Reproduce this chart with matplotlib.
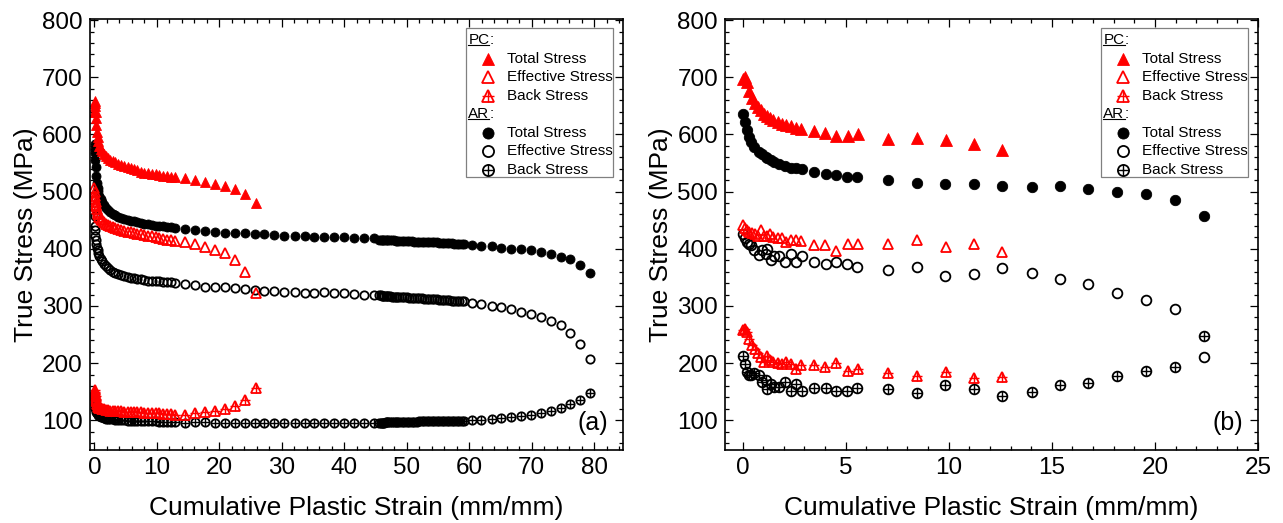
import matplotlib
matplotlib.use('Agg')
import matplotlib.pyplot as plt
from matplotlib.ticker import MultipleLocator
from matplotlib.patches import Rectangle

plt.rcParams['font.family'] = ['Liberation Sans', 'DejaVu Sans']

RED = '#ff0000'
BLACK = '#000000'

# ---- (a) tests run to failure ----
pc_a_strain = [0.0, 0.05, 0.1, 0.15, 0.2, 0.25, 0.3, 0.4, 0.5, 0.6, 0.8, 1.0, 1.2, 1.5, 1.8,
               2.1, 2.5, 2.9, 3.3, 3.8, 4.3, 4.8, 5.3, 5.8, 6.3, 6.8, 7.4, 8.0, 8.6, 9.2,
               9.8, 10.4, 11.0, 11.6, 12.2, 12.9,
               14.5, 16.1, 17.7, 19.3, 20.9, 22.5, 24.1, 25.8]
pc_a_total = [640, 655, 658, 650, 640, 628, 617, 605, 596, 588, 580, 575, 571, 566, 562,
              559, 556, 553, 551, 549, 547, 545, 543, 541, 539, 537, 535, 533, 532, 531,
              530, 529, 528, 527, 526, 525,
              523, 520, 517, 513, 510, 505, 495, 480]
pc_a_eff = [507, 500, 493, 487, 482, 477, 474, 469, 465, 461, 456, 452, 450, 447, 444,
            442, 440, 438, 436, 434, 432.5, 431, 430, 428.5, 427.5, 426.5, 425, 424, 422.5, 421.5,
            420.5, 419, 417.5, 416, 414.5, 413,
            412, 408, 403, 398, 392, 380, 360, 322]
pc_a_back = [145, 150, 153, 148, 142, 137, 133, 129, 126, 124, 122, 121, 120, 119, 118,
             117.5, 117, 116.5, 116, 116, 115.5, 115, 115, 114.5, 114.5, 114, 114, 113.5, 113, 113,
             112.5, 112, 111.5, 111, 110.5, 110,
             110, 113, 115, 117, 120, 125, 135, 157]

ar_a_strain = [0.05, 0.08, 0.1, 0.15, 0.2, 0.3, 0.4, 0.5, 0.6, 0.8, 1.0, 1.2, 1.5, 1.8,
               2.1, 2.5, 2.9, 3.3, 3.8, 4.3, 4.8, 5.3, 5.8, 6.3, 6.8, 7.4, 8.0, 8.6, 9.2,
               9.8, 10.4, 11.0, 11.6, 12.2, 12.9,
               14.5, 16.1, 17.7, 19.3, 20.9, 22.5, 24.1, 25.7, 27.2, 28.8, 30.4, 32.1, 33.7,
               35.2, 36.8, 38.4, 40.0, 41.6, 43.2, 44.8,
               45.6, 45.8, 46.0, 46.2, 46.4, 46.6, 46.8, 47.0, 47.3, 47.6, 47.9, 48.2, 48.5,
               48.8, 49.2, 49.6, 50.0, 50.4, 50.8, 51.2, 51.6, 52.0, 52.4, 52.8, 53.2, 53.6,
               54.0, 54.4, 54.8, 55.2, 55.6, 56.0, 56.4, 56.8, 57.2, 57.6, 58.0, 58.4, 58.8, 59.2,
               60.4, 61.9, 63.6, 65.1, 66.7, 68.3, 69.9, 71.5, 73.1, 74.7, 76.2, 77.8, 79.4]
ar_a_total = [583, 575, 567, 555, 543, 527, 515, 507, 501, 493, 487, 482, 476, 471,
              467, 464, 461, 459, 456, 454, 452.5, 451, 449, 448, 446.5, 445, 444, 442.5, 441.5,
              440.5, 439.5, 439, 438.5, 438, 437,
              435, 433, 431, 430, 428, 427, 427, 426, 425, 424, 423, 423, 422,
              421, 421, 420, 420, 419, 418, 418,
              416, 416, 416, 415.5, 415.5, 415.5, 415, 415, 415, 414.5, 414.5, 414, 414,
              414, 413.5, 413.5, 413, 413, 413, 412.5, 412.5, 412, 412, 412, 411.5, 411.5,
              411, 411, 411, 410.5, 410.5, 410, 410, 409.5, 409.5, 409, 409, 408.5, 408.5, 408,
              406.5, 405, 404.5, 402, 400, 399, 397, 394, 391, 386, 382, 372, 357]
ar_a_eff = [458, 440, 432, 423, 415, 408, 402, 397, 393, 387, 382, 378, 374, 370,
            367, 363, 360, 358, 356, 354, 352, 350.5, 349.5, 348.5, 347.5, 346.5, 345.5, 344.5, 344,
            343.5, 343, 342.5, 342, 341.5, 341,
            339, 336, 333, 334, 333, 331, 330, 328.5, 327, 326, 325, 324, 323,
            323, 324, 323, 322.5, 321, 320, 319.5,
            318.5, 318.5, 318, 318, 318, 317.5, 317.5, 317, 317, 316.5, 316.5, 316, 316,
            315.5, 315.5, 315, 315, 314.5, 314.5, 314, 314, 313.5, 313.5, 313, 312.5, 312.5,
            312, 312, 311.5, 311, 311, 310.5, 310.5, 310, 309.5, 309.5, 309, 308.5, 308.5, 308,
            305, 303.5, 300.5, 298, 294, 290, 286, 280, 274.5, 266, 252, 234, 208]
ar_a_back = [135, 131, 127, 122, 118, 114, 112, 110.5, 109, 107.5, 106, 105, 104, 103,
             102.5, 102, 101.5, 101, 100.5, 100, 100, 99.5, 99.5, 99, 99, 98.5, 98.5, 98, 98,
             98, 97.5, 97.5, 97, 97, 97,
             96, 97, 97.5, 96, 95.5, 95.5, 95.5, 95.5, 95.5, 95.5, 95.5, 95.5, 95.5,
             95.5, 96, 95.5, 95.5, 96, 96, 96,
             96, 96, 96, 96, 96, 96.5, 96.5, 96.5, 96.5, 96.5, 97, 97, 97,
             97, 97, 97, 97.5, 97.5, 97.5, 97.5, 97.5, 98, 98, 98, 98, 98,
             98, 98.5, 98.5, 98.5, 98.5, 98.5, 99, 99, 99, 99, 99, 99, 99.5, 99.5,
             100, 101, 103, 104, 106, 107.5, 110, 113, 116, 122, 128, 136, 148]

# ---- (b) interrupted tests ----
pc_b_strain = [0.0, 0.1, 0.2, 0.3, 0.45, 0.6, 0.75, 0.9, 1.05, 1.2, 1.35, 1.5, 1.7, 1.9,
               2.1, 2.35, 2.6, 2.85, 3.45, 4.0, 4.55, 5.1, 5.6, 7.05, 8.45, 9.85, 11.25, 12.6]
pc_b_total = [697, 700, 691, 676, 664, 655, 648, 642, 636, 632, 629, 626, 622, 618,
              616, 614, 611, 609, 606, 602, 598, 598, 600, 592, 594, 591, 584, 572]
pc_b_eff = [441, 437, 432, 429, 427, 426, 423, 432, 423, 423, 425, 420, 418, 418,
            412, 415, 416, 413, 407, 406, 396, 409, 408, 408, 415, 403, 409, 394]
pc_b_back = [258, 260, 254, 242, 232, 225, 218, 210, 202, 213, 205, 202, 200, 199,
             202, 199, 190, 196, 196, 194, 200, 187, 190, 182, 177, 184, 174, 176]

ar_b_strain = [0.03, 0.13, 0.24, 0.32, 0.4, 0.57, 0.78, 0.94, 1.13, 1.21, 1.37, 1.53, 1.78,
               2.07, 2.34, 2.61, 2.87, 3.47, 4.03, 4.55, 5.08, 5.56, 7.06, 8.47, 9.84, 11.24,
               12.6, 14.03, 15.4, 16.77, 18.18, 19.56, 20.97, 22.37]
ar_b_total = [636, 621, 608, 595, 586, 578, 570, 566, 560, 558, 555, 552, 548,
              545, 542, 541, 539, 534, 530, 529, 525, 525, 520, 515, 513, 513,
              510, 508, 509, 504, 499, 495, 486, 458]
ar_b_eff = [425, 418, 412, 409, 406, 397, 389, 397, 391, 400, 381, 388, 388,
            376, 391, 376, 387, 377, 373, 377, 374, 368, 363, 368, 352, 356,
            367, 358, 348, 339, 322, 310, 294, 211]
ar_b_back = [212, 199, 185, 179, 180, 182, 179, 167, 170, 155, 164, 158, 158,
             167, 151, 164, 151, 156, 156, 151, 151, 156, 154, 148, 161, 155,
             142, 150, 161, 165, 178, 186, 193, 247]

key_rows = ['Total Stress', 'Effective Stress', 'Back Stress']


def draw_series(ax, x, y, marker, color, kind, ms, **kw):
    if kind == 'total':
        ax.plot(x, y, ls='none', marker=marker, ms=ms, mfc=color, mec=color, mew=0.6, **kw)
    else:
        ax.plot(x, y, ls='none', marker=marker, ms=ms, mfc='none', mec=color, mew=1.3, **kw)
        if kind == 'back':
            ax.plot(x, y, ls='none', marker='+', ms=ms, mec=color, mew=1.0, **kw)


def draw_key(ax, fig):
    ax.add_patch(Rectangle((0.705, 0.633), 0.276, 0.346, transform=ax.transAxes,
                           fc='white', ec='#808080', lw=0.9, zorder=5))
    y = 0.951
    step = 0.0429
    kinds = ['total', 'eff', 'back']
    for group, marker, color in [('PC', '^', RED), ('AR', 'o', BLACK)]:
        head = ax.text(0.710, y, group, transform=ax.transAxes, fontsize=11,
                       ha='left', va='center', zorder=6)
        fig.canvas.draw()
        bb = head.get_window_extent().transformed(ax.transAxes.inverted())
        ax.text(bb.x1, y, ':', transform=ax.transAxes, fontsize=11,
                ha='left', va='center', zorder=6)
        ax.plot([bb.x0, bb.x1], [bb.y0 + 0.004, bb.y0 + 0.004], color='black', lw=0.8,
                transform=ax.transAxes, zorder=6)
        y -= step
        for label, kind in zip(key_rows, kinds):
            draw_series(ax, [0.747], [y], marker, color, kind, 8,
                        transform=ax.transAxes, zorder=6, clip_on=False)
            ax.text(0.782, y, label, transform=ax.transAxes, fontsize=11,
                    ha='left', va='center', zorder=6)
            y -= step


def style_axes(ax, xmajor, xminor, xlim, tag):
    ax.set_xlim(*xlim)
    ax.set_ylim(48, 802)
    ax.xaxis.set_major_locator(MultipleLocator(xmajor))
    ax.xaxis.set_minor_locator(MultipleLocator(xminor))
    ax.yaxis.set_major_locator(MultipleLocator(100))
    ax.yaxis.set_minor_locator(MultipleLocator(20))
    ax.tick_params(which='both', direction='in', top=True, right=True, width=0.9)
    ax.tick_params(which='major', length=5.5, labelsize=17.5, pad=5)
    ax.tick_params(which='minor', length=3)
    for sp in ax.spines.values():
        sp.set_linewidth(1.2)
    ax.set_xlabel('Cumulative Plastic Strain (mm/mm)', fontsize=19, labelpad=12)
    ax.set_ylabel('True Stress (MPa)', fontsize=19, labelpad=3)
    ax.text(0.944, 0.063, tag, transform=ax.transAxes, fontsize=18, ha='center', va='center')


fig = plt.figure(figsize=(12.83, 5.23), dpi=100)
ax_a = fig.add_axes([0.0701, 0.1396, 0.4154, 0.8241])
ax_b = fig.add_axes([0.5651, 0.1396, 0.4154, 0.8241])

# panel (a)
draw_series(ax_a, ar_a_strain, ar_a_total, 'o', BLACK, 'total', 6.5)
draw_series(ax_a, ar_a_strain, ar_a_eff, 'o', BLACK, 'eff', 6)
draw_series(ax_a, ar_a_strain, ar_a_back, 'o', BLACK, 'back', 6)
draw_series(ax_a, pc_a_strain, pc_a_total, '^', RED, 'total', 7)
draw_series(ax_a, pc_a_strain, pc_a_eff, '^', RED, 'eff', 6.5)
draw_series(ax_a, pc_a_strain, pc_a_back, '^', RED, 'back', 6.5)
style_axes(ax_a, 10, 2, (-0.72, 84.6), '(a)')

# panel (b)
draw_series(ax_b, ar_b_strain, ar_b_total, 'o', BLACK, 'total', 7.5)
draw_series(ax_b, ar_b_strain, ar_b_eff, 'o', BLACK, 'eff', 7)
draw_series(ax_b, ar_b_strain, ar_b_back, 'o', BLACK, 'back', 7)
draw_series(ax_b, pc_b_strain, pc_b_total, '^', RED, 'total', 8)
draw_series(ax_b, pc_b_strain, pc_b_eff, '^', RED, 'eff', 7.5)
draw_series(ax_b, pc_b_strain, pc_b_back, '^', RED, 'back', 7.5)
style_axes(ax_b, 5, 1, (-0.85, 25.0), '(b)')

draw_key(ax_a, fig)
draw_key(ax_b, fig)

fig.savefig('out.png', dpi=100)
